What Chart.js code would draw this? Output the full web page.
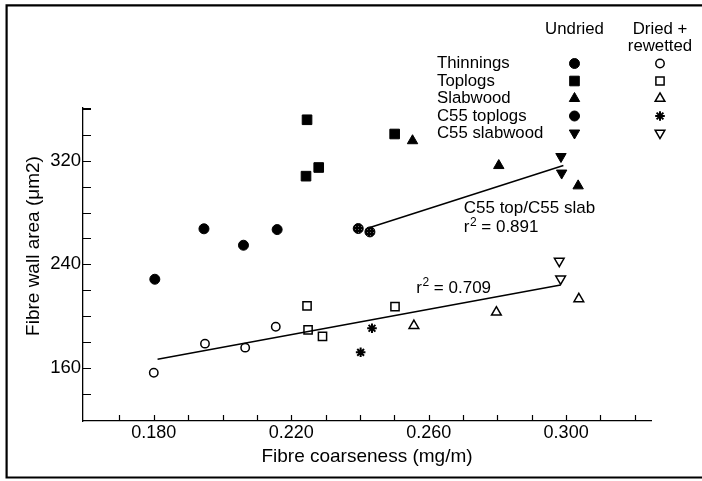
<!DOCTYPE html>
<html>
<head>
<meta charset="utf-8">
<script src="https://cdn.jsdelivr.net/npm/chart.js@4.4.1/dist/chart.umd.min.js"></script>
<style>
  body { margin: 0; background: #fff; }
  canvas { display: block; }
</style>
</head>
<body>
<canvas id="grafico" width="702" height="481"></canvas>
<script>
const FONTE = "'Liberation Sans', Arial, Helvetica, sans-serif";

// undried
const thinX = [0.1803, 0.1946, 0.2061, 0.2159];
const thinY = [228.4, 267.4, 254.7, 266.8];
const topX = [0.2246, 0.2243, 0.2280, 0.2501];
const topY = [351.7, 308.1, 314.8, 340.7];
const slabX = [0.2553, 0.2804, 0.3035];
const slabY = [335.5, 316.3, 300.6];
const c55TopX = [0.2395, 0.2429];
const c55TopY = [267.6, 265.0];
const c55SlabX = [0.2985, 0.2987];
const c55SlabY = [323.3, 310.5];

// dried + rewetted
const thinDX = [0.1800, 0.1949, 0.2066, 0.2155];
const thinDY = [156.1, 178.6, 175.5, 191.7];
const topDX = [0.2246, 0.2249, 0.2291, 0.2502];
const topDY = [207.8, 189.2, 184.3, 207.2];
const slabDX = [0.2557, 0.2797, 0.3037];
const slabDY = [192.5, 202.9, 213.2];
const c55TopDX = [0.2435, 0.2402];
const c55TopDY = [190.5, 171.9];
const c55SlabDX = [0.2980, 0.2984];
const c55SlabDY = [242.4, 228.7];

// linhas de regressao
const fitUndX = [0.2429, 0.2992];
const fitUndY = [268.4, 316.3];
const fitDryX = [0.1811, 0.2984];
const fitDryY = [166.5, 224.0];

// eixos
const xLabels = [0.18, 0.22, 0.26, 0.30];
const yLabels = [160, 240, 320];

const legendaNomes = ["Thinnings", "Toplogs", "Slabwood", "C55 toplogs", "C55 slabwood"];

// textos no grafico (em coordenadas dos dados)
const notas = [
    { x: 0.2702, y: 279.5, texto: "C55 top/C55 slab" },
    { x: 0.2702, y: 264.8, r2: "0.891" },
    { x: 0.2564, y: 218.0, r2: "0.709" }
];

function pontilhado() {
    const c = document.createElement("canvas");
    c.width = 3; c.height = 3;
    const g = c.getContext("2d");
    g.fillStyle = "#000"; g.fillRect(0, 0, 3, 3);
    g.fillStyle = "#666"; g.fillRect(1, 1, 1, 1);
    return g.createPattern(c, "repeat");
}

const cheio = { backgroundColor: "#000", borderColor: "#000", borderWidth: 1 };
const vazio = { backgroundColor: "#fff", borderColor: "#000", borderWidth: 1.5 };

const estilos = {
    thin:   { ...cheio, pointStyle: "circle", pointRadius: 5 },
    top:    { ...cheio, pointStyle: "rect", pointRadius: 6.8 },
    slab:   { ...cheio, pointStyle: "triangle", pointRadius: 6 },
    c55Top: { ...cheio, pointStyle: "circle", pointRadius: 5 },
    c55Slab:{ ...cheio, pointStyle: "triangle", pointRadius: 6, rotation: 180 },
    thinD:  { ...vazio, pointStyle: "circle", pointRadius: 4.2 },
    topD:   { ...vazio, pointStyle: "rect", pointRadius: 5.8 },
    slabD:  { ...vazio, pointStyle: "triangle", pointRadius: 5.6 },
    c55TopD:{ ...vazio, pointStyle: "star", pointRadius: 4.8, borderWidth: 2 },
    c55SlabD:{ ...vazio, pointStyle: "triangle", pointRadius: 5.6, rotation: 180 }
};

function serie(xs, ys, e, extra) {
    return {
        data: xs.map((x, i) => ({ x, y: ys[i] })),
        pointStyle: e.pointStyle,
        pointRadius: e.pointRadius,
        pointRotation: e.rotation || 0,
        pointBackgroundColor: e.backgroundColor,
        pointBorderColor: e.borderColor,
        pointBorderWidth: e.borderWidth,
        showLine: false,
        ...(extra || {})
    };
}

function reta(xs, ys) {
    return {
        data: xs.map((x, i) => ({ x, y: ys[i] })),
        showLine: true,
        pointRadius: 0,
        borderColor: "#000",
        borderWidth: 1.5,
        fill: false
    };
}

const padraoC55 = pontilhado();

const datasets = [
    reta(fitUndX, fitUndY),
    reta(fitDryX, fitDryY),
    serie(thinX, thinY, estilos.thin),
    serie(topX, topY, estilos.top),
    serie(slabX, slabY, estilos.slab),
    serie(c55TopX, c55TopY, estilos.c55Top, { pointBackgroundColor: padraoC55 }),
    serie(c55SlabX, c55SlabY, estilos.c55Slab),
    serie(thinDX, thinDY, estilos.thinD),
    serie(topDX, topDY, estilos.topD),
    serie(slabDX, slabDY, estilos.slabD),
    serie(c55TopDX, c55TopDY, estilos.c55TopD),
    serie(c55SlabDX, c55SlabDY, estilos.c55SlabD)
];

function marcador(ctx, e, x, y) {
    ctx.save();
    ctx.fillStyle = e.backgroundColor;
    ctx.strokeStyle = e.borderColor;
    ctx.lineWidth = e.borderWidth;
    Chart.helpers.drawPoint(ctx, {
        pointStyle: e.pointStyle,
        radius: e.pointRadius,
        rotation: e.rotation || 0,
        borderWidth: e.borderWidth
    }, x, y);
    ctx.restore();
}

function textoR2(ctx, x, y, valor) {
    ctx.textAlign = "left";
    ctx.textBaseline = "alphabetic";
    ctx.font = "17px " + FONTE;
    ctx.fillText("r", x, y);
    let w = ctx.measureText("r").width + 0.5;
    ctx.font = "12px " + FONTE;
    ctx.fillText("2", x + w, y - 6.5);
    w += ctx.measureText("2").width;
    ctx.font = "17px " + FONTE;
    ctx.fillText(" = " + valor, x + w, y);
}

const extras = {
    id: "extras",
    afterDraw(chart) {
        const ctx = chart.ctx;
        const xs = chart.scales.x, ys = chart.scales.y;
        const area = chart.chartArea;
        ctx.save();
        ctx.strokeStyle = "#000";
        ctx.fillStyle = "#000";

        // marcas dos eixos, para dentro
        ctx.lineWidth = 1.2;
        ctx.beginPath();
        xs.ticks.forEach((t, i) => {
            if (i === 0) return;
            const px = Math.round(xs.getPixelForValue(t.value)) + 0.5;
            ctx.moveTo(px, area.bottom);
            ctx.lineTo(px, area.bottom - 6);
        });
        ys.ticks.forEach((t, i) => {
            if (i === 0) return;
            const py = Math.round(ys.getPixelForValue(t.value)) + 0.5;
            ctx.moveTo(area.left, py);
            ctx.lineTo(area.left + 8, py);
        });
        ctx.moveTo(area.left, area.top + 0.5);
        ctx.lineTo(area.left + 8, area.top + 0.5);
        ctx.stroke();

        // moldura
        ctx.lineWidth = 2.2;
        ctx.beginPath();
        ctx.moveTo(702, 5.3);
        ctx.lineTo(6.6, 5.3);
        ctx.lineTo(6.6, 477.5);
        ctx.lineTo(702, 477.5);
        ctx.stroke();

        // titulo do eixo y
        ctx.save();
        ctx.translate(34, 246);
        ctx.rotate(-Math.PI / 2);
        ctx.font = "19px " + FONTE;
        ctx.textAlign = "center";
        ctx.textBaseline = "middle";
        ctx.fillText("Fibre wall area (\u03bcm2)", 0, 0);
        ctx.restore();

        // textos das regressoes
        notas.forEach(n => {
            const px = xs.getPixelForValue(n.x);
            const py = ys.getPixelForValue(n.y);
            if (n.texto) {
                ctx.font = "17px " + FONTE;
                ctx.textAlign = "left";
                ctx.textBaseline = "alphabetic";
                ctx.fillText(n.texto, px, py);
            } else {
                textoR2(ctx, px, py, n.r2);
            }
        });

        // legenda
        ctx.font = "16.8px " + FONTE;
        ctx.textBaseline = "middle";
        ctx.textAlign = "center";
        ctx.fillText("Undried", 574.5, 29);
        ctx.fillText("Dried +", 660, 29);
        ctx.fillText("rewetted", 660, 46);
        const linhas = [63.5, 81, 98.5, 116, 133];
        const und = [estilos.thin, estilos.top, estilos.slab, estilos.c55Top, estilos.c55Slab];
        const dry = [estilos.thinD, estilos.topD, estilos.slabD, estilos.c55TopD, estilos.c55SlabD];
        legendaNomes.forEach((nome, i) => {
            ctx.textAlign = "left";
            ctx.fillText(nome, 437, linhas[i]);
            marcador(ctx, und[i], 574.5, linhas[i]);
            marcador(ctx, dry[i], 660, linhas[i]);
        });
        ctx.restore();
    }
};

new Chart(document.getElementById("grafico"), {
    type: "scatter",
    data: { datasets },
    options: {
        responsive: false,
        animation: false,
        devicePixelRatio: 1,
        layout: { padding: { top: 108, right: 51, left: 0, bottom: 0 } },
        plugins: { legend: { display: false }, tooltip: { enabled: false } },
        scales: {
            x: {
                type: "linear",
                min: 0.1594,
                max: 0.3247,
                afterFit: s => { s.height = 60; },
                grid: { display: false, drawTicks: false },
                border: { display: true, color: "#000", width: 1.3 },
                ticks: {
                    stepSize: 0.01,
                    autoSkip: false,
                    maxRotation: 0,
                    includeBounds: false,
                    padding: 1.5,
                    color: "#000",
                    font: { family: FONTE, size: 18 },
                    callback: v => xLabels.some(l => Math.abs(l - v) < 1e-6) ? v.toFixed(3) : ""
                },
                title: {
                    display: true,
                    text: "Fibre coarseness (mg/m)",
                    color: "#000",
                    font: { family: FONTE, size: 19 },
                    padding: { top: 0, bottom: 13 }
                }
            },
            y: {
                type: "linear",
                min: 118.8,
                max: 360.8,
                afterFit: s => { s.width = 83; },
                grid: { display: false, drawTicks: false },
                border: { display: true, color: "#000", width: 1.3 },
                ticks: {
                    stepSize: 20,
                    autoSkip: false,
                    includeBounds: false,
                    padding: 2,
                    color: "#000",
                    font: { family: FONTE, size: 18.5 },
                    callback: v => yLabels.includes(v) ? String(v) : ""
                }
            }
        }
    },
    plugins: [extras]
});
</script>
</body>
</html>
